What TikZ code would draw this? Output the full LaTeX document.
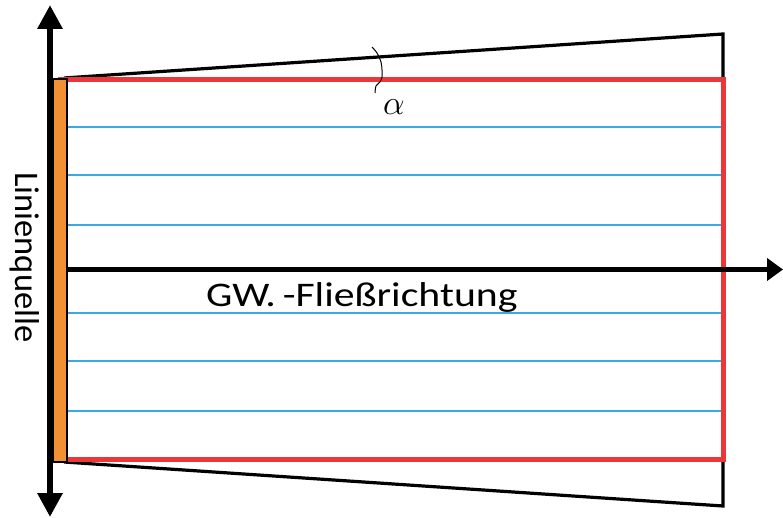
\documentclass[tikz,border=0pt]{standalone}
\usepackage{fontspec}
\setmainfont{Carlito}
\usetikzlibrary{arrows.meta}
\definecolor{redline}{RGB}{235,55,55}
\definecolor{orangebar}{RGB}{242,145,52}
\definecolor{blueline}{RGB}{60,170,225}
\begin{document}
\begin{tikzpicture}[x=1pt,y=-1pt,
  outline/.style={black,line width=3.2pt,line join=miter},
  flowline/.style={blueline,line width=1.8pt},
  redframe/.style={redline,line width=5pt},
  bigarrow/.style={black,line width=5.5pt},
  lbl/.style={inner sep=0pt}]
\useasboundingbox (0,0) rectangle (783,518);
% trapezoid
\coordinate (tl) at (64,78);
\coordinate (tr) at (723,34);
\coordinate (br) at (723,506);
\coordinate (bl) at (64,462);
\draw[outline] (tl) -- (tr) -- (br) -- (bl);
% flow lines
\foreach \yy in {127,175,225,313,361,411}{
  \draw[flowline] (67,\yy) -- (721,\yy);
}
% red domain
\draw[redframe] (60,80) rectangle (723,459);
% vertical arrow
\coordinate (vtop) at (50,5);
\coordinate (vbot) at (50,517);
\draw[black,line width=6.5pt,{Triangle[length=24pt,width=24pt]}-{Triangle[length=24pt,width=24pt]}] (vtop) -- (vbot);
% orange line source bar
\node[draw=black,fill=orangebar,line width=1.5pt,minimum width=14pt,minimum height=383pt,inner sep=0pt] (bar) at (60,270.5) {};
% horizontal arrow
\coordinate (hend) at (783,269.5);
\draw[bigarrow,-{Triangle[length=16pt,width=22pt]}] (bar.east |- hend) -- (hend);
% angle marker
\draw[black,line width=1pt] plot[smooth] coordinates {(372,47) (377,53) (381,62) (382,70) (382,77) (380,82) (376,86) (375,93)};
% labels
\node[lbl,anchor=center,scale=1.38] (alpha) at (394,107) {\Huge$\alpha$};
\node[lbl,anchor=base west,xscale=1.21] (gw) at (206,306) {\fontsize{34.5}{34.5}\selectfont GW.\,-Fließrichtung};
\node[lbl,anchor=base west,rotate=-90] (lq) at (15,172) {\fontsize{34.5}{34.5}\selectfont Linienquelle};
\end{tikzpicture}
\end{document}
